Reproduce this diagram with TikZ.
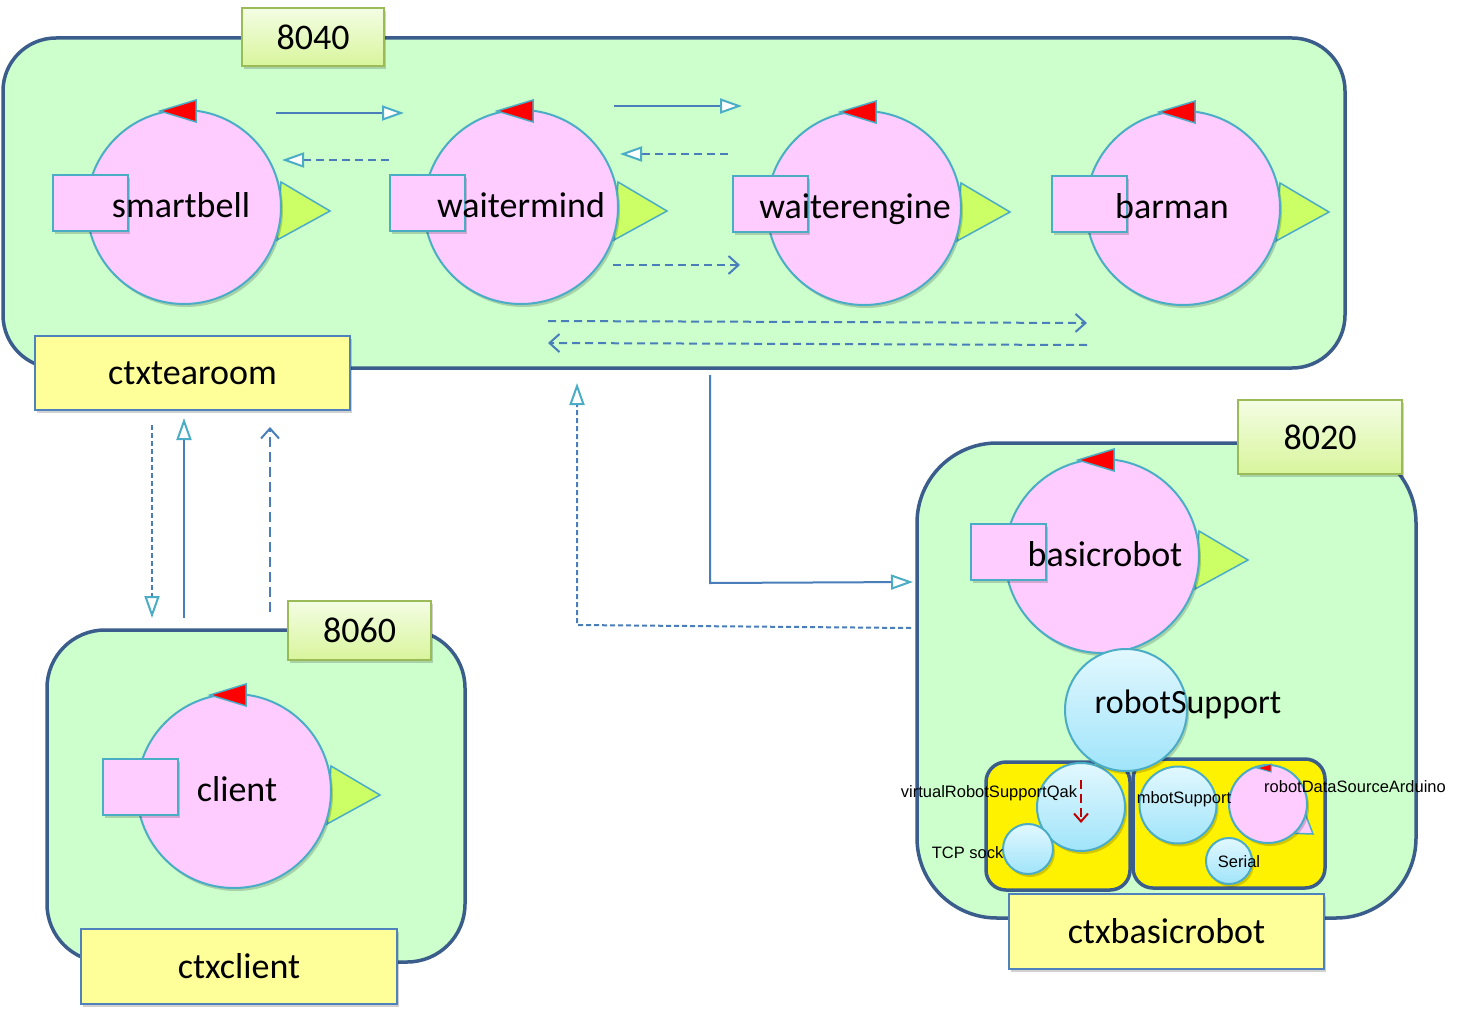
\documentclass[tikz,border=0pt]{standalone}
\usepackage{fontspec}
\setmainfont{Carlito}
\newfontfamily\arialf{Liberation Sans}
\usetikzlibrary{arrows.meta,shadows}
\definecolor{ctxfill}{HTML}{CCFFCC}
\definecolor{ctxline}{HTML}{3B5D8C}
\definecolor{actfill}{HTML}{FFCCFF}
\definecolor{actline}{HTML}{4BACC6}
\definecolor{trigreen}{HTML}{CCFF66}
\definecolor{arrowblue}{HTML}{4A7EBB}
\definecolor{labfill}{HTML}{FFFF99}
\definecolor{labline}{HTML}{4F81BD}
\definecolor{porttop}{HTML}{F4FDE4}
\definecolor{portbot}{HTML}{D8F59C}
\definecolor{portline}{HTML}{9BBB59}
\definecolor{suptop}{HTML}{E2F8FE}
\definecolor{supbot}{HTML}{A0E4FA}
\definecolor{darkred}{HTML}{C00000}
\tikzset{
 shadowed/.style={drop shadow={shadow xshift=2pt, shadow yshift=-3pt, opacity=0.18, fill=black}},
 ctxbox/.style={draw=ctxline, line width=3.5pt, fill=ctxfill, inner sep=0pt},
 portbox/.style={draw=portline, line width=2pt, top color=porttop, bottom color=portbot, inner sep=0pt, font=\fontsize{36}{40}\selectfont, shadowed},
 labbox/.style={draw=labline, line width=2pt, fill=labfill, inner sep=0pt, font=\fontsize{36}{40}\selectfont, shadowed},
 actcirc/.style={circle, draw=actline, line width=2pt, fill=actfill, minimum size=194pt, inner sep=0pt, shadowed},
 actrect/.style={draw=actline, line width=2pt, fill=actfill, minimum width=75pt, minimum height=56pt, inner sep=0pt, shadowed},
 redtri/.style={draw=actline, line width=1.5pt, fill=red},
 greentri/.style={draw=actline, line width=1.5pt, fill=trigreen},
 pinktri/.style={draw=actline, line width=1.5pt, fill=actfill},
 acttext/.style={font=\fontsize{36}{40}\selectfont, anchor=base, inner sep=0pt},
 smalltext/.style={font=\arialf\fontsize{16.5}{18}\selectfont, anchor=base, inner sep=0pt},
 supcirc/.style={circle, draw=actline, line width=2pt, top color=suptop, bottom color=supbot, inner sep=0pt, shadowed},
 ybox/.style={draw=ctxline, line width=3.5pt, fill=yellow, rounded corners=20pt, inner sep=0pt},
 conn/.style={draw=arrowblue, line width=2pt},
 trihead/.style={-{Triangle[length=22pt, width=15pt, fill=white, color=actline, line width=2pt]}},
 vhead/.style={-{Straight Barb[length=10pt, width=18pt, line width=2pt]}},
 shortdash/.style={dash pattern=on 5pt off 3pt},
 longdash/.style={dash pattern=on 8pt off 5pt},
}
\newcommand\myactor[5]{%
 \begin{scope}[shift={(#2,#3)}]
  \draw[greentri] (97,-25) -- (146,4) -- (93,33) -- cycle;
  \node[actcirc] (#1) at (0,0) {};
  \node[actrect] (#1r) at (-94,-4) {};
  \draw[redtri] (-24,-96) -- (12,-107) -- (12,-85) -- cycle;
  \node[acttext] (#1t) at (#5,10) {#4};
 \end{scope}}
\begin{document}
\begin{tikzpicture}[x=1pt,y=-1pt]
\path[fill=white,use as bounding box] (0,0) rectangle (1463,1022);

% ---------- ctxtearoom ----------
\node[ctxbox, rounded corners=53pt, minimum width=1342pt, minimum height=330pt] (tearoom) at (674,203) {};
\node[portbox, minimum width=142pt, minimum height=58pt] (p8040) at (313,37) {8040};
\myactor{smartbell}{184}{207}{smartbell}{-3}
\myactor{waitermind}{521}{207}{waitermind}{0}
\myactor{waiterengine}{864}{208}{waiterengine}{-9}
\myactor{barman}{1183}{208}{barman}{-11}
\node[labbox, minimum width=315pt, minimum height=74pt] (ltearoom) at (192.5,373) {ctxtearoom};

\coordinate (a1s) at (276,113); \coordinate (a1e) at (404,113);
\coordinate (a2s) at (389,160); \coordinate (a2e) at (282,160);
\coordinate (a3s) at (614,106); \coordinate (a3e) at (742,106);
\coordinate (a4s) at (728,154); \coordinate (a4e) at (620,154);
\coordinate (a5s) at (613,265); \coordinate (a5e) at (740,265);
\coordinate (a6s) at (548,321); \coordinate (a6e) at (1087,323);
\coordinate (a7s) at (1087,345); \coordinate (a7e) at (548,343);
\draw[conn, trihead] (a1s) -- (a1e);
\draw[conn, trihead, longdash] (a2s) -- (a2e);
\draw[conn, trihead] (a3s) -- (a3e);
\draw[conn, trihead, longdash] (a4s) -- (a4e);
\draw[conn, vhead, longdash] (a5s) -- (a5e);
\draw[conn, vhead, longdash] (a6s) -- (a6e);
\draw[conn, vhead, longdash] (a7s) -- (a7e);

% ---------- ctxclient ----------
\node[ctxbox, rounded corners=58pt, minimum width=418pt, minimum height=332pt] (clientctx) at (256,796) {};
\node[portbox, minimum width=143pt, minimum height=59pt] (p8060) at (359.5,630.5) {8060};
\myactor{client}{234}{791}{client}{3}
\node[labbox, minimum width=316pt, minimum height=75pt] (lclient) at (239,966.5) {ctxclient};

% ---------- ctxbasicrobot ----------
\node[ctxbox, rounded corners=80pt, minimum width=499pt, minimum height=475pt] (robotctx) at (1166.5,680.5) {};
\node[portbox, minimum width=164pt, minimum height=74pt] (p8020) at (1320,437) {8020};
\myactor{basicrobot}{1102}{556}{basicrobot}{3}

\node[ybox, minimum width=144pt, minimum height=128pt] (yleft) at (1058,826) {};
\node[ybox, minimum width=192pt, minimum height=129pt] (yright) at (1229,823.5) {};

\node[supcirc, minimum size=88pt] (vrsq) at (1081,807) {};
\node[supcirc, minimum size=50pt] (tcp) at (1028,849) {};
\node[supcirc, minimum size=77pt] (mbot) at (1178,805) {};
\node[supcirc, minimum size=46pt] (serial) at (1229,861) {};
\draw[pinktri] (1300,800) -- (1313,834) -- (1285,833) -- cycle;
\node[circle, draw=actline, line width=2pt, fill=actfill, minimum size=78pt, inner sep=0pt, shadowed] (rdsa) at (1268,804) {};
\draw[redtri, line width=1pt] (1257,768) -- (1271,764) -- (1271,772) -- cycle;

\coordinate (r1s) at (1081,780); \coordinate (r1e) at (1081,823);
\draw[draw=darkred, line width=2pt, dash pattern=on 9pt off 5pt, -{Straight Barb[length=8pt, width=14pt, line width=2pt]}] (r1s) -- (r1e);

\node[supcirc, minimum size=122pt] (robotSupport) at (1126,710) {};
\node[acttext, font=\fontsize{34}{38}\selectfont] (rst) at (1188,713) {robotSupport};

\node[smalltext] (vrsqt) at (989,797) {virtualRobotSupportQak};
\node[smalltext] (tcpt) at (967.5,858) {TCP sock};
\node[smalltext] (mbott) at (1184,803) {mbotSupport};
\node[smalltext] (rdsat) at (1355,792) {robotDataSourceArduino};
\node[smalltext] (serialt) at (1239,867) {Serial};

\node[labbox, minimum width=315pt, minimum height=75pt] (lrobot) at (1166.5,931.5) {ctxbasicrobot};

% ---------- connectors between contexts ----------
\coordinate (b1s) at (152,425); \coordinate (b1e) at (152,618);
\coordinate (b2s) at (184,618); \coordinate (b2e) at (184,418);
\coordinate (b3s) at (270,612); \coordinate (b3e) at (270,427);
\coordinate (b4s) at (911,628); \coordinate (b4m) at (577,625); \coordinate (b4e) at (577,383);
\coordinate (b5s) at (710,375); \coordinate (b5m) at (710,583); \coordinate (b5e) at (913,582);
\draw[conn, trihead, shortdash] (b1s) -- (b1e);
\draw[conn, trihead] (b2s) -- (b2e);
\draw[conn, vhead, dash pattern=on 10pt off 5pt] (b3s) -- (b3e);
\draw[conn, trihead, shortdash] (b4s) -- (b4m) -- (b4e);
\draw[conn, trihead] (b5s) -- (b5m) -- (b5e);
\end{tikzpicture}
\end{document}
